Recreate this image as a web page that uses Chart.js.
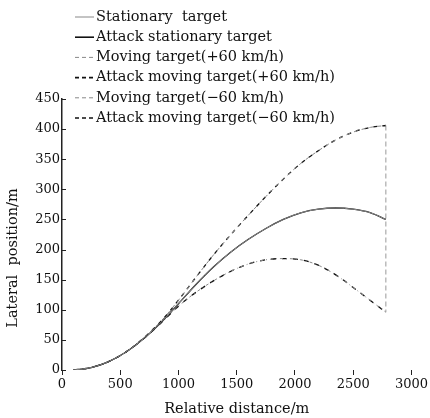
<!DOCTYPE html>
<html>
<head>
<meta charset="utf-8">
<script src="https://cdn.jsdelivr.net/npm/chart.js@4"></script>
<style>
  html, body { margin: 0; padding: 0; background: #fff; }
  #wrap { width: 430px; height: 418px; position: relative; }
</style>
</head>
<body>
<div id="wrap"><canvas id="lateralChart"></canvas></div>
<script>
// Data
var distance   = [100, 250, 400, 550, 700, 850, 1000, 1150, 1300, 1450, 1600, 1750, 1900, 2050, 2200, 2350, 2500, 2650, 2780];
var stationary = [0, 4, 14, 30, 52, 79, 110, 142, 171, 196, 217, 235, 250, 261, 267, 269, 267, 261, 250];
var movingPlus = [0, 4, 14, 30, 53, 81, 116, 154, 191, 225, 257, 288, 317, 343, 364, 382, 395, 403, 406];
var movingMinus = [0, 4, 14, 30, 52, 78, 106, 129, 148, 164, 176, 183, 185, 183, 174, 158, 137, 115, 96];
var legendNames = [
    'Stationary  target',
    'Attack stationary target',
    'Moving target(+60 km/h)',
    'Attack moving target(+60 km/h)',
    'Moving target(\u221260 km/h)',
    'Attack moving target(\u221260 km/h)'
];
var xTicks = [0, 500, 1000, 1500, 2000, 2500, 3000];
var yTicks = [0, 50, 100, 150, 200, 250, 300, 350, 400, 450];

var SERIF = '"DejaVu Serif", "Liberation Serif", serif';

function pts(values) {
    return distance.map(function(d, i) { return { x: d, y: values[i] }; });
}

var lastX = distance[distance.length - 1];

var datasets = [
    { label: legendNames[0], data: pts(stationary), borderColor: '#888', borderWidth: 1, borderDash: [] },
    { label: legendNames[1], data: pts(stationary), borderColor: '#111', borderWidth: 1.3, borderDash: [] },
    { label: legendNames[2], data: pts(movingPlus), borderColor: '#888', borderWidth: 1, borderDash: [4, 4] },
    { label: legendNames[3], data: pts(movingPlus), borderColor: '#111', borderWidth: 1.3, borderDash: [4, 5] },
    { label: legendNames[4], data: pts(movingMinus), borderColor: '#888', borderWidth: 1, borderDash: [3, 3, 1, 3] },
    { label: legendNames[5], data: pts(movingMinus), borderColor: '#111', borderWidth: 1.3, borderDash: [5, 6] },
    { label: '', data: [{ x: lastX, y: movingPlus[movingPlus.length - 1] }, { x: lastX, y: movingMinus[movingMinus.length - 1] }],
      borderColor: '#aaa', borderWidth: 1.2, borderDash: [5, 3], tension: 0 }
];
datasets.forEach(function(ds) {
    ds.fill = false;
    ds.pointRadius = 0;
    if (ds.tension === undefined) ds.cubicInterpolationMode = 'monotone';
});

// legend as a plain vertical list top left, plus the y title and inward y ticks
var extras = {
    id: 'extras',
    afterDraw: function(chart) {
        var ctx = chart.ctx;
        var yScale = chart.scales.y;
        ctx.save();
        ctx.font = '14.5px ' + SERIF;
        ctx.textBaseline = 'middle';
        ctx.fillStyle = '#111';
        for (var i = 0; i < 6; i++) {
            var ds = chart.data.datasets[i];
            var y = 17 + i * 20.2;
            ctx.beginPath();
            ctx.setLineDash(ds.borderDash.length ? [4, 3] : []);
            ctx.lineWidth = i % 2 ? 1.6 : 1;
            ctx.strokeStyle = ds.borderColor;
            ctx.moveTo(75, y);
            ctx.lineTo(94, y);
            ctx.stroke();
            ctx.setLineDash([]);
            ctx.fillText(ds.label, 96, y);
        }
        // y axis title
        ctx.save();
        ctx.translate(13, 258);
        ctx.rotate(-Math.PI / 2);
        ctx.textAlign = 'center';
        ctx.font = '14.5px ' + SERIF;
        ctx.fillText('Lateral  position/m', 0, 0);
        ctx.restore();
        // short inward tick marks on the y axis
        ctx.strokeStyle = '#222';
        ctx.lineWidth = 1;
        yTicks.forEach(function(v) {
            var py = Math.round(yScale.getPixelForValue(v)) + 0.5;
            ctx.beginPath();
            ctx.moveTo(yScale.right, py);
            ctx.lineTo(yScale.right + 4, py);
            ctx.stroke();
        });
        ctx.restore();
    }
};

var ctx = document.getElementById('lateralChart').getContext('2d');
var chart = new Chart(ctx, {
    type: 'line',
    data: { datasets: datasets },
    options: {
        responsive: true,
        maintainAspectRatio: false,
        animation: false,
        layout: { padding: { top: 99, right: 18, left: 0, bottom: 0 } },
        plugins: {
            legend: { display: false },
            tooltip: { enabled: false }
        },
        scales: {
            x: {
                type: 'linear',
                min: 0,
                max: 3000,
                afterBuildTicks: function(s) { s.ticks = xTicks.map(function(v) { return { value: v }; }); },
                afterFit: function(s) { s.height = 48; },
                border: { display: false },
                grid: { drawOnChartArea: false, tickLength: 5, color: '#222' },
                ticks: { color: '#111', font: { family: SERIF, size: 13 }, padding: 2, maxRotation: 0,
                         callback: function(v) { return String(v); } },
                title: { display: true, text: 'Relative distance/m', color: '#111',
                         font: { family: SERIF, size: 14.5 }, padding: { top: 0, bottom: 0 } }
            },
            y: {
                min: 0,
                max: 450,
                afterBuildTicks: function(s) { s.ticks = yTicks.map(function(v) { return { value: v }; }); },
                afterFit: function(s) { s.width = 62; },
                border: { display: true, color: '#222', width: 1.5 },
                grid: { drawOnChartArea: false, drawTicks: false },
                ticks: { color: '#111', font: { family: SERIF, size: 13 }, padding: 2,
                         callback: function(v) { return String(v); } }
            }
        }
    },
    plugins: [extras]
});
</script>
</body>
</html>
